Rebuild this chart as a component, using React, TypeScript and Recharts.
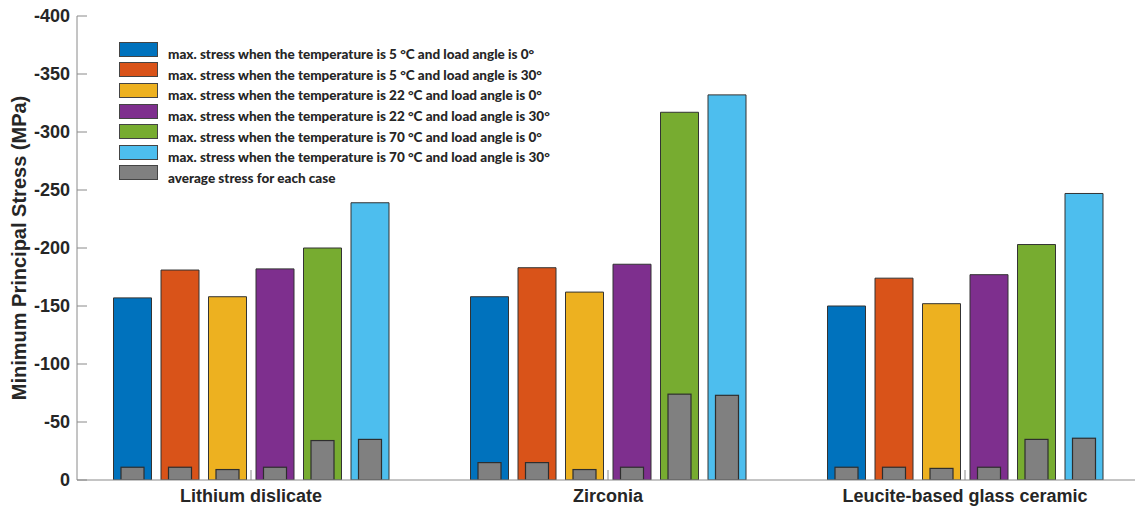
import { BarChart, Bar, XAxis, YAxis, Legend, Label } from "recharts";

const categories = ["Lithium dislicate", "Zirconia", "Leucite-based glass ceramic"];

const seriesNames = [
  "max. stress when the temperature is 5 °C and load angle is 0°",
  "max. stress when the temperature is 5 °C and load angle is 30°",
  "max. stress when the temperature is 22 °C and load angle is 0°",
  "max. stress when the temperature is 22 °C and load angle is 30°",
  "max. stress when the temperature is 70 °C and load angle is 0°",
  "max. stress when the temperature is 70 °C and load angle is 30°",
];
const avgName = "average stress for each case";

const colors = ["#0072BD", "#D95319", "#EDB120", "#7E2F8E", "#77AC30", "#4DBEEE"];
const avgColor = "#808080";

// max stress, one array per case (Lithium, Zirconia, Leucite)
const maxT5A0 = [-157, -158, -150];
const maxT5A30 = [-181, -183, -174];
const maxT22A0 = [-158, -162, -152];
const maxT22A30 = [-182, -186, -177];
const maxT70A0 = [-200, -317, -203];
const maxT70A30 = [-239, -332, -247];

// average stress for each case
const avgT5A0 = [-11, -15, -11];
const avgT5A30 = [-11, -15, -11];
const avgT22A0 = [-9, -9, -10];
const avgT22A30 = [-11, -11, -11];
const avgT70A0 = [-34, -74, -35];
const avgT70A30 = [-35, -73, -36];

const yTicks = [-400, -350, -300, -250, -200, -150, -100, -50, 0];

const maxSeries = [maxT5A0, maxT5A30, maxT22A0, maxT22A30, maxT70A0, maxT70A30];
const avgSeries = [avgT5A0, avgT5A30, avgT22A0, avgT22A30, avgT70A0, avgT70A30];

const data = categories.map((name, i) => {
  const row: Record<string, string | number> = { name };
  maxSeries.forEach((s, k) => (row["m" + k] = s[i]));
  avgSeries.forEach((s, k) => (row["a" + k] = s[i]));
  return row;
});

const axisColor = "#8a8a8a";
const textColor = "#262626";
const axisFont = "'Liberation Sans', Arial, sans-serif";
const legendFont = "Lato, 'Noto Sans', sans-serif";

const InnerBar = (props: any) => {
  const { x, y, width, height } = props;
  const top = Math.min(y, y + height);
  const h = Math.abs(height);
  const w = 23;
  return (
    <rect x={x + (width - w) / 2} y={top} width={w} height={h} fill={avgColor} stroke="#2e2e2e" strokeWidth={1.2} />
  );
};

const LeftTick = ({ x, y, payload }: any) => (
  <g>
    <line x1={x} y1={y} x2={x + 10} y2={y} stroke={axisColor} />
    <text x={x - 7} y={y} dy={6} textAnchor="end" fontSize={18} fontWeight={700} fill={textColor} fontFamily={axisFont}>
      {payload.value}
    </text>
  </g>
);

const RightTick = ({ x, y }: any) => <line x1={x} y1={y} x2={x - 10} y2={y} stroke={axisColor} />;

const BottomTick = ({ x, y, payload }: any) => (
  <g>
    <line x1={x} y1={y} x2={x} y2={y - 10} stroke={axisColor} />
    <text x={x} y={y + 22} textAnchor="middle" fontSize={18} fontWeight={700} fill={textColor} fontFamily={axisFont}>
      {payload.value}
    </text>
  </g>
);

const TopTick = ({ x, y }: any) => <line x1={x} y1={y} x2={x} y2={y + 10} stroke={axisColor} />;

const YTitle = () => (
  <text
    x={25.5}
    y={248}
    transform="rotate(-90, 25.5, 248)"
    textAnchor="middle"
    fontSize={20}
    fontWeight={700}
    fill={textColor}
    fontFamily={axisFont}
  >
    Minimum Principal Stress (MPa)
  </text>
);

const legendItems = [
  ...seriesNames.map((n, i) => ({ name: n, color: colors[i] })),
  { name: avgName, color: avgColor },
];

const LegendBox = () => (
  <div style={{ fontFamily: legendFont, fontWeight: 900, fontSize: 13.5, color: textColor }}>
    {legendItems.map((it) => (
      <div key={it.name} style={{ display: "flex", alignItems: "center", height: 20.6 }}>
        <span
          style={{
            width: 39,
            height: 15,
            background: it.color,
            border: "1px solid #444",
            boxSizing: "border-box",
            marginRight: 10,
            flex: "none",
          }}
        />
        <span style={{ whiteSpace: "nowrap", position: "relative", top: 5 }}>{it.name}</span>
      </div>
    ))}
  </div>
);

export default function App() {
  return (
    <div style={{ position: "fixed", left: 0, top: 0, width: 1135, height: 508, overflow: "hidden", background: "#fff" }}>
      <BarChart
        width={1150}
        height={508}
        data={data}
        margin={{ top: 16, right: 10, left: 0, bottom: 0 }}
        barGap={9.5}
      >
        <XAxis
          xAxisId="bottom"
          dataKey="name"
          height={28}
          padding={{ left: -4.5, right: -3.5 }}
          axisLine={{ stroke: axisColor }}
          tickLine={false}
          tickSize={0}
          tickMargin={0}
          tick={<BottomTick />}
          interval={0}
        />
        <XAxis
          xAxisId="top"
          dataKey="name"
          orientation="top"
          height={0}
          padding={{ left: -4.5, right: -3.5 }}
          axisLine={{ stroke: axisColor }}
          tickLine={false}
          tickSize={0}
          tickMargin={0}
          tick={<TopTick />}
          interval={0}
        />
        <YAxis
          yAxisId="left"
          width={77}
          domain={[-400, 0]}
          ticks={yTicks}
          reversed
          allowDataOverflow
          axisLine={{ stroke: axisColor }}
          tickLine={false}
          tickSize={0}
          tickMargin={0}
          tick={<LeftTick />}
          interval={0}
        >
          <Label content={<YTitle />} />
        </YAxis>
        <YAxis
          yAxisId="right"
          orientation="right"
          width={0}
          domain={[-400, 0]}
          ticks={yTicks}
          reversed
          axisLine={{ stroke: axisColor }}
          tickLine={false}
          tickSize={0}
          tickMargin={0}
          tick={<RightTick />}
          interval={0}
        />
        <Legend
          layout="vertical"
          align="center"
          verticalAlign="middle"
          content={<LegendBox />}
          wrapperStyle={{ left: 119, top: 39, width: "auto" }}
        />
        {colors.map((c, k) => (
          <Bar
            key={"m" + k}
            dataKey={"m" + k}
            name={seriesNames[k]}
            xAxisId="bottom"
            yAxisId="left"
            fill={c}
            stroke="#333"
            strokeWidth={1}
            barSize={38}
            isAnimationActive={false}
          />
        ))}
        {colors.map((_, k) => (
          <Bar
            key={"a" + k}
            dataKey={"a" + k}
            name={avgName}
            xAxisId="top"
            yAxisId="left"
            fill={avgColor}
            barSize={38}
            shape={<InnerBar />}
            isAnimationActive={false}
          />
        ))}
      </BarChart>
    </div>
  );
}
